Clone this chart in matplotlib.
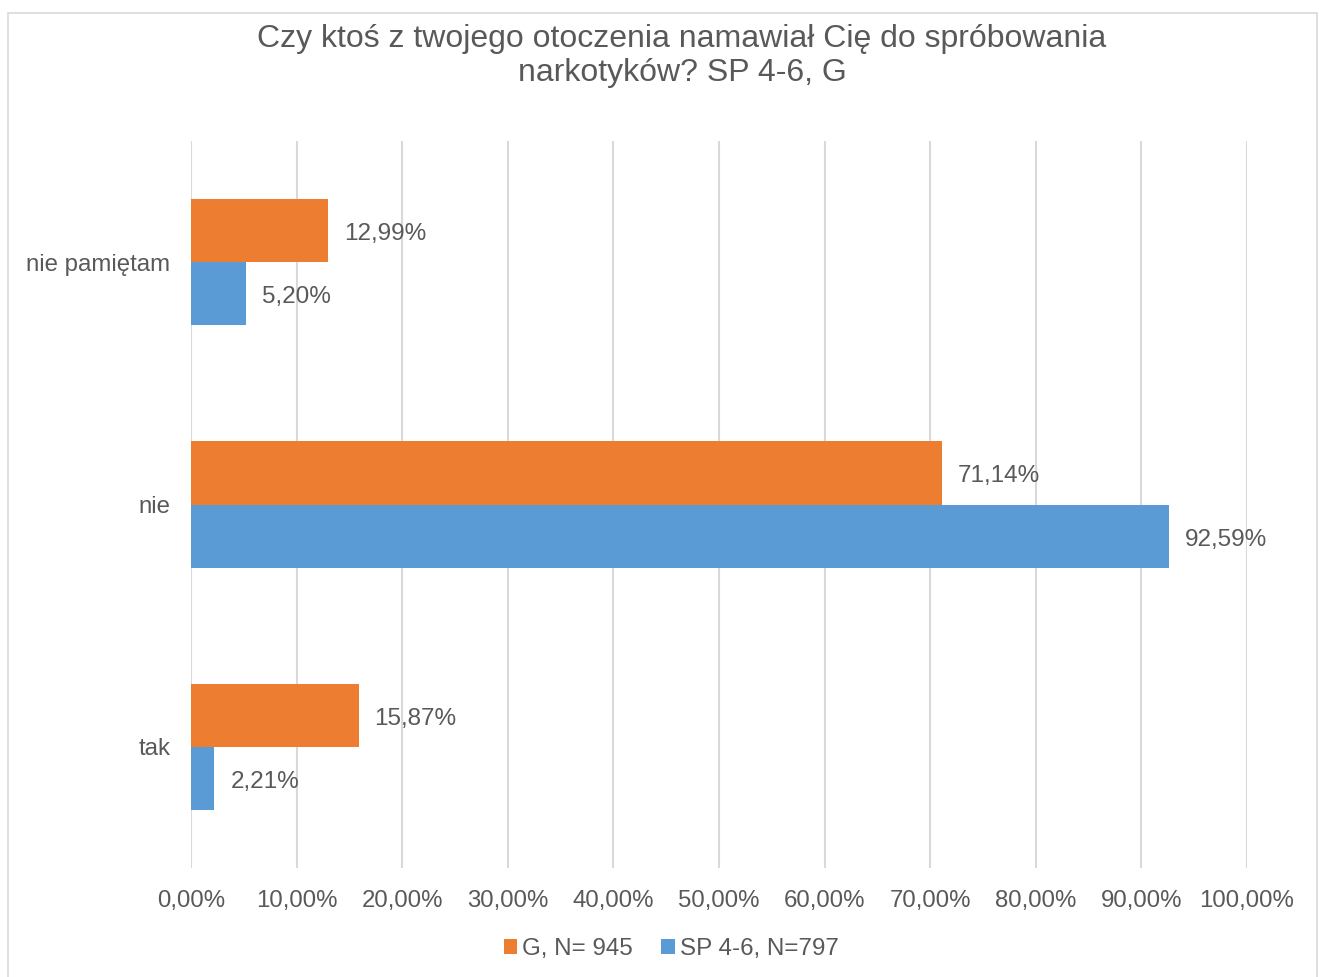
import matplotlib
matplotlib.use("Agg")
import matplotlib.pyplot as plt
from matplotlib.patches import Rectangle

categories = ["tak", "nie", "nie pamiętam"]
series_names = ["G, N= 945", "SP 4-6, N=797"]
values_g = [15.87, 71.14, 12.99]
values_sp = [2.21, 92.59, 5.20]
xticks = [0, 10, 20, 30, 40, 50, 60, 70, 80, 90, 100]
title = "Czy ktoś z twojego otoczenia namawiał Cię do spróbowania\nnarkotyków? SP 4-6, G"

orange = "#ED7D31"
blue = "#5B9BD5"
text_c = "#595959"
grid_c = "#D9D9D9"

plt.rcParams['font.family'] = ['Liberation Sans', 'DejaVu Sans']

W, H = 1319, 977
fig = plt.figure(figsize=(W / 100, H / 100), dpi=100)

# outer frame
fig.patches.append(Rectangle((8 / W, -0.01), (1317 - 8) / W, (H - 13) / H + 0.01,
                             transform=fig.transFigure, fill=False,
                             edgecolor="#D9D9D9", linewidth=1.2))

left, right, top, bottom = 191, 1247, 141, 868
ax = fig.add_axes([left / W, 1 - bottom / H, (right - left) / W, (bottom - top) / H])

ypos = list(range(len(categories)))
h = 0.26
ax.barh([y + h / 2 for y in ypos], values_g, height=h, color=orange, label=series_names[0])
ax.barh([y - h / 2 for y in ypos], values_sp, height=h, color=blue, label=series_names[1])

for y, v in zip(ypos, values_g):
    ax.annotate(f"{v:.2f}%".replace(".", ","), (v, y + h / 2), xytext=(16, -1),
                textcoords="offset pixels", va="center_baseline", ha="left",
                fontsize=17.5, color=text_c)
for y, v in zip(ypos, values_sp):
    ax.annotate(f"{v:.2f}%".replace(".", ","), (v, y - h / 2), xytext=(16, -1),
                textcoords="offset pixels", va="center_baseline", ha="left",
                fontsize=17.5, color=text_c)

ax.set_xlim(0, 100)
ax.set_ylim(-0.5, len(categories) - 0.5)
ax.set_xticks(xticks)
ax.set_xticklabels([f"{t:.2f}%".replace(".", ",") for t in xticks])
ax.set_yticks(ypos)
ax.set_yticklabels(categories)
ax.tick_params(axis="both", length=0, labelsize=17.3, labelcolor=text_c)
ax.tick_params(axis="x", pad=15.5)
ax.tick_params(axis="y", pad=15)
ax.grid(axis="x", color=grid_c, linewidth=1.5)
ax.set_axisbelow(True)
for s in ax.spines.values():
    s.set_visible(False)

fig.text(682 / W, 1 - 56 / H, title, ha="center", va="center", fontsize=23,
         color=text_c, linespacing=1.2)

leg = fig.legend(loc="center", bbox_to_anchor=(671 / W, 1 - 949 / H), ncol=2,
                 frameon=False, fontsize=17.4, labelcolor=text_c,
                 handlelength=0.55, handleheight=0.55, handletextpad=0.2,
                 columnspacing=1.2)

fig.savefig("out.png", dpi=100)
